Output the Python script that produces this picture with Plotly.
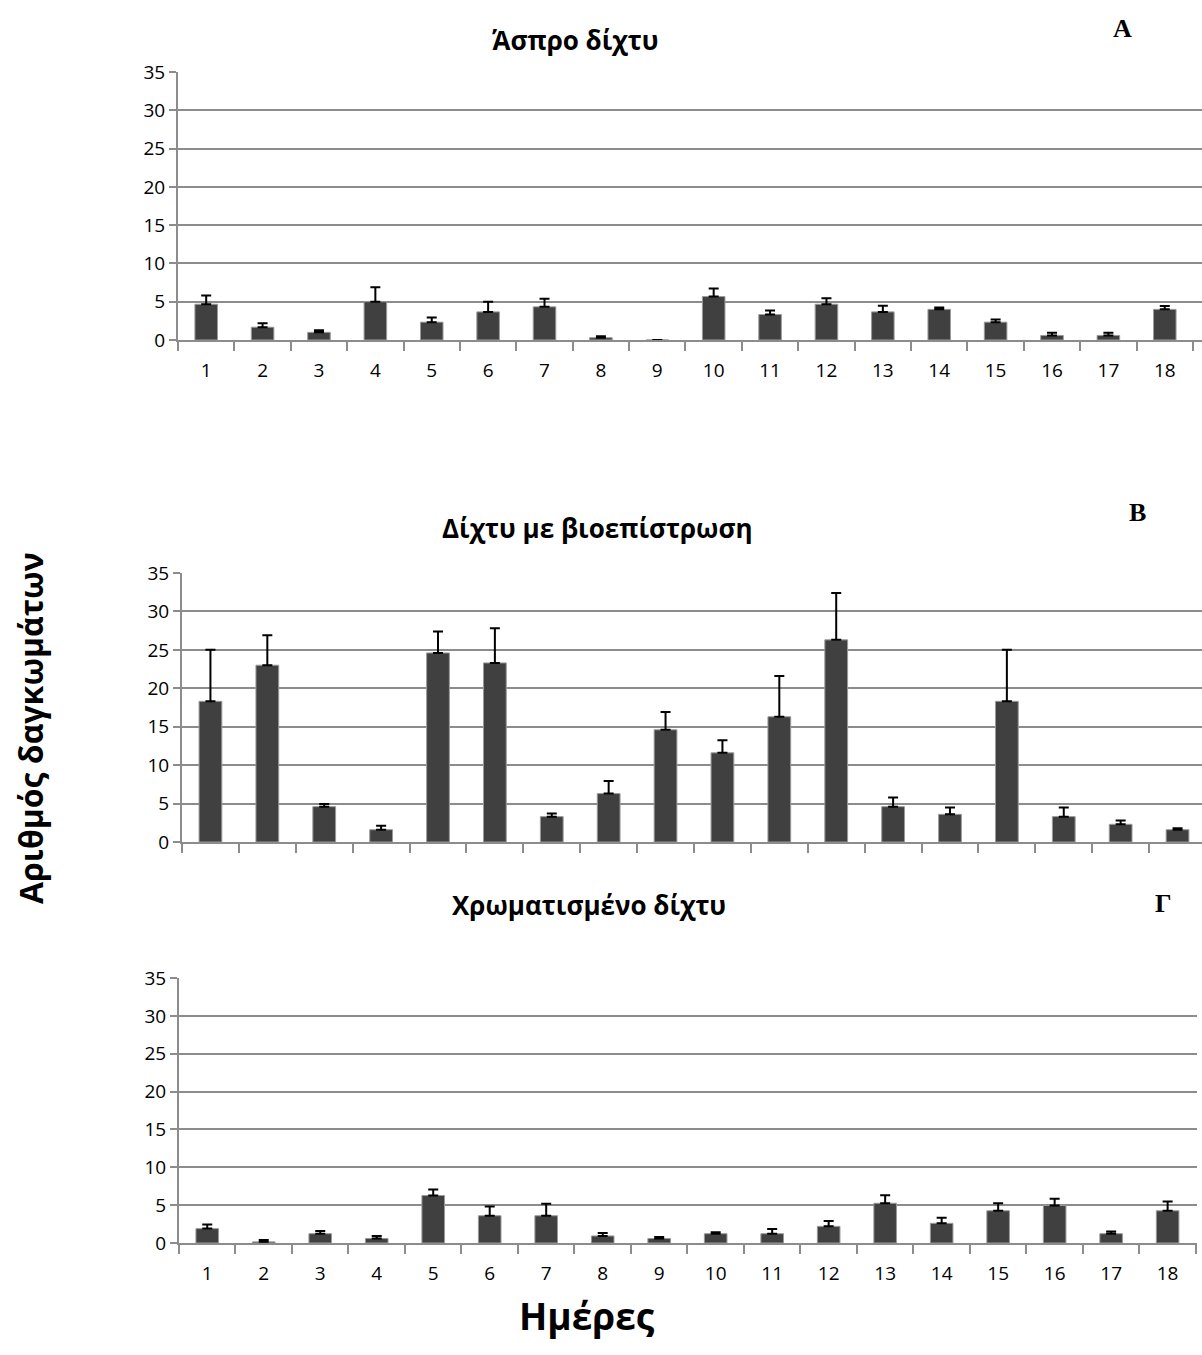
import plotly.graph_objects as go

days = [str(i) for i in range(1, 19)]

a_vals = [4.67, 1.67, 1.0, 5.0, 2.33, 3.67, 4.33, 0.3, 0.0, 5.67, 3.33, 4.67, 3.67, 4.0, 2.33, 0.6, 0.6, 4.0]
a_err = [1.14, 0.53, 0.27, 1.89, 0.62, 1.32, 1.05, 0.2, 0.0, 1.06, 0.53, 0.79, 0.79, 0.26, 0.36, 0.35, 0.35, 0.44]

b_vals = [18.3, 23.0, 4.6, 1.6, 24.6, 23.3, 3.3, 6.3, 14.6, 11.6, 16.3, 26.3, 4.6, 3.6, 18.3, 3.3, 2.3, 1.6]
b_err = [6.7, 3.9, 0.35, 0.5, 2.8, 4.5, 0.4, 1.65, 2.3, 1.65, 5.3, 6.1, 1.2, 0.9, 6.7, 1.2, 0.5, 0.2]

c_vals = [1.9, 0.15, 1.23, 0.6, 6.27, 3.6, 3.6, 0.93, 0.6, 1.23, 1.23, 2.2, 5.25, 2.6, 4.26, 4.95, 1.23, 4.26]
c_err = [0.55, 0.24, 0.34, 0.34, 0.79, 1.22, 1.57, 0.39, 0.2, 0.19, 0.63, 0.7, 1.05, 0.73, 0.99, 0.88, 0.29, 1.23]

titles = ["Άσπρο δίχτυ", "Δίχτυ με βιοεπίστρωση", "Χρωματισμένο δίχτυ"]
letters = ["A", "B", "Γ"]
y_label = "Αριθμός δαγκωμάτων"
x_label = "Ημέρες"
y_ticks = [0, 5, 10, 15, 20, 25, 30, 35]

W, H = 1202, 1355

def px_x(v):
    return v / W

def px_y(v):
    return 1 - v / H

fig = go.Figure()

panels = [
    (a_vals, a_err, (178, 1202), (72, 340), True, [-0.5, 17.66]),
    (b_vals, b_err, (182, 1202), (573, 842), False, [-0.5, 17.43]),
    (c_vals, c_err, (179, 1197), (978, 1243), True, [-0.5, 17.52]),
]

BAR = "#404040"
GRID = "#8c8c8c"
FONT = "Open Sans"

for i, (vals, errs, (x0, x1), (ytop, ybot), show_lbl, xr) in enumerate(panels):
    n = "" if i == 0 else str(i + 1)
    fig.add_trace(go.Bar(
        x=days, y=vals,
        xaxis="x" + n, yaxis="y" + n,
        width=0.4,
        marker=dict(color=BAR, line=dict(color="#9a9a9a", width=1)),
        error_y=dict(type="data", array=errs, symmetric=False,
                     arrayminus=[0] * len(errs),
                     color="black", thickness=2, width=5),
        showlegend=False,
    ))
    fig.update_layout(**{
        "xaxis" + n: dict(
            domain=[px_x(x0), px_x(x1)],
            anchor="y" + n,
            type="category",
            range=xr,
            showgrid=False,
            showline=True, linecolor=GRID, linewidth=2,
            ticks="outside", tickson="boundaries", ticklen=9,
            tickcolor=GRID, tickwidth=1.5,
            showticklabels=show_lbl,
            tickfont=dict(family=FONT, size=19, color="black"),
            ticklabelstandoff=12,
            automargin=False,
            fixedrange=True,
        ),
        "yaxis" + n: dict(
            domain=[px_y(ybot), px_y(ytop)],
            anchor="x" + n,
            range=[0, 35],
            tickvals=y_ticks,
            showgrid=True, gridcolor=GRID, gridwidth=1.5,
            showline=True, linecolor=GRID, linewidth=2,
            ticks="outside", ticklen=7, tickcolor=GRID, tickwidth=1.5,
            tickfont=dict(family=FONT, size=19, color="black"),
            zeroline=False,
            automargin=False,
            fixedrange=True,
        ),
    })

title_pos = [(575, 40), (597, 528), (589, 905)]
letter_pos = [(1122, 28), (1137, 512), (1163, 903)]
annotations = []
for t, (tx, ty) in zip(titles, title_pos):
    annotations.append(dict(text="<b>" + t + "</b>", x=px_x(tx), y=px_y(ty),
                            xref="paper", yref="paper", showarrow=False,
                            xanchor="center", yanchor="middle",
                            font=dict(family=FONT, size=26, color="black")))
for t, (tx, ty) in zip(letters, letter_pos):
    annotations.append(dict(text="<b>" + t + "</b>", x=px_x(tx), y=px_y(ty),
                            xref="paper", yref="paper", showarrow=False,
                            xanchor="center", yanchor="middle",
                            font=dict(family="Liberation Serif", size=26, color="black")))
annotations.append(dict(text="<b>" + y_label + "</b>", x=px_x(30), y=px_y(728),
                        xref="paper", yref="paper", showarrow=False, textangle=-90,
                        xanchor="center", yanchor="middle",
                        font=dict(family=FONT, size=32, color="black")))
annotations.append(dict(text="<b>" + x_label + "</b>", x=px_x(587), y=px_y(1315),
                        xref="paper", yref="paper", showarrow=False,
                        xanchor="center", yanchor="middle",
                        font=dict(family=FONT, size=37, color="black")))

fig.update_layout(
    width=W, height=H,
    margin=dict(l=0, r=0, t=0, b=0, pad=0, autoexpand=False),
    paper_bgcolor="white", plot_bgcolor="white",
    annotations=annotations,
    bargap=0.6,
)

fig.write_html("out.html")
